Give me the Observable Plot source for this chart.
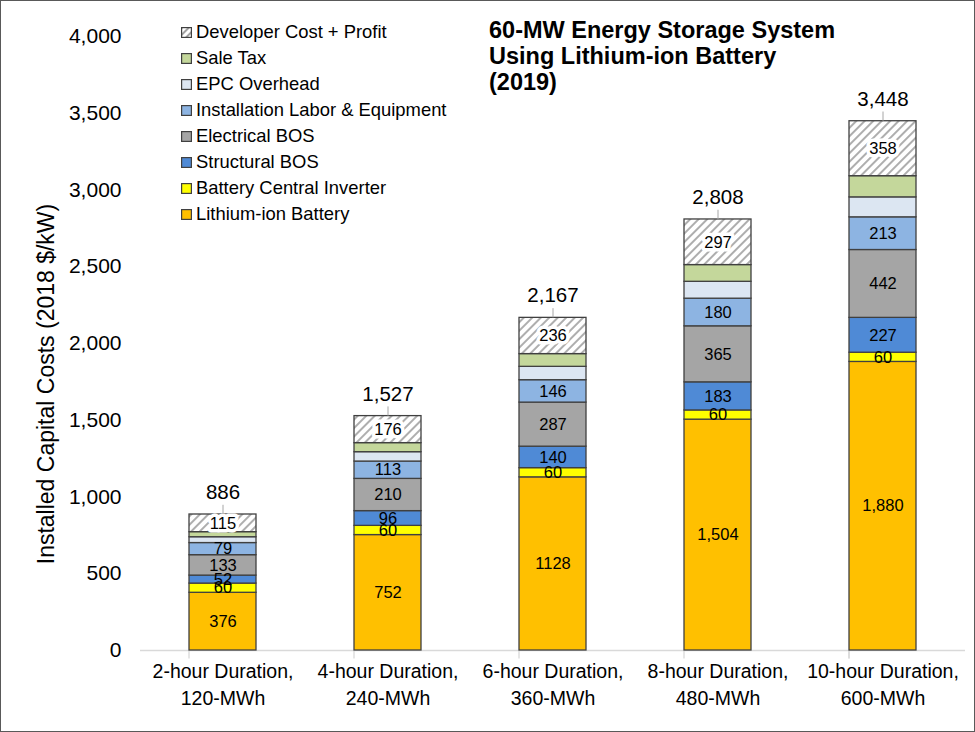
<!DOCTYPE html>
<html>
<head>
<meta charset="utf-8">
<script src="https://cdn.jsdelivr.net/npm/d3@7"></script>
<script src="https://cdn.jsdelivr.net/npm/@observablehq/plot@0.6"></script>
<style>
  html, body { margin: 0; padding: 0; background: #fff; }
  body { font-family: "Liberation Sans", Arial, sans-serif; color: #000; }
  #fig { position: relative; width: 975px; height: 732px; overflow: hidden; background: #fff; }
  #fig > svg.chart { position: absolute; left: 0; top: 0; }
  #frame { position: absolute; left: 0; top: 0; width: 975px; height: 732px; box-sizing: border-box; border: 1px solid #595959; pointer-events: none; }
  #title { position: absolute; left: 489px; top: 17px; font-weight: bold; font-size: 23.5px; line-height: 26px; }
  #ylabel { position: absolute; left: 46px; top: 384px; transform: translate(-50%, -50%) rotate(-90deg); white-space: nowrap; font-size: 23px; }
  #legend { position: absolute; left: 181px; top: 19px; font-size: 18.4px; }
  #legend .row { height: 26px; display: flex; align-items: center; }
  #legend .sw { width: 11px; height: 11px; margin-right: 4px; flex: none; }
</style>
</head>
<body>
<svg width="0" height="0" style="position:absolute">
  <defs>
    <pattern id="hatch" patternUnits="userSpaceOnUse" width="6" height="6" patternTransform="rotate(45)">
      <rect width="6" height="6" fill="#ffffff"></rect>
      <line x1="1" y1="0" x2="1" y2="6" stroke="#9a9a9a" stroke-width="1.6"></line>
    </pattern>
    <pattern id="hatchSmall" patternUnits="userSpaceOnUse" width="5" height="5" patternTransform="rotate(45)">
      <rect width="5" height="5" fill="#ffffff"></rect>
      <line x1="1" y1="0" x2="1" y2="5" stroke="#7a7a7a" stroke-width="1.4"></line>
    </pattern>
  </defs>
</svg>
<div id="fig">
  <div id="title">60-MW Energy Storage System<br>Using Lithium-ion Battery<br>(2019)</div>
  <div id="ylabel">Installed Capital Costs (2018 $/kW)</div>
  <div id="legend"></div>
  <div id="frame"></div>
</div>
<script>
// ---- data ----
const categories = [
  "2-hour Duration,\n120-MWh",
  "4-hour Duration,\n240-MWh",
  "6-hour Duration,\n360-MWh",
  "8-hour Duration,\n480-MWh",
  "10-hour Duration,\n600-MWh"
];
const components = [
  "Lithium-ion Battery",
  "Battery Central Inverter",
  "Structural BOS",
  "Electrical BOS",
  "Installation Labor & Equipment",
  "EPC Overhead",
  "Sale Tax",
  "Developer Cost + Profit"
];
const battery      = [376, 752, 1128, 1504, 1880];
const inverter     = [60, 60, 60, 60, 60];
const structural   = [52, 96, 140, 183, 227];
const electrical   = [133, 210, 287, 365, 442];
const installation = [79, 113, 146, 180, 213];
const epc          = [38, 61, 87, 110, 130];
const saleTax      = [33, 59, 83, 109, 138];
const developer    = [115, 176, 236, 297, 358];
const totals       = [886, 1527, 2167, 2808, 3448];
const batteryLabels = ["376", "752", "1128", "1,504", "1,880"];
const yTicks = [0, 500, 1000, 1500, 2000, 2500, 3000, 3500, 4000];
const colors = ["#FFC000", "#FFFF00", "#4F8AD6", "#A5A5A5", "#8DB4E2", "#DCE6F2", "#C4D79B", "url(#hatch)"];
const labeled = [true, true, true, true, true, false, false, true];

// ---- build table ----
const series = [battery, inverter, structural, electrical, installation, epc, saleTax, developer];
const fmt = d3.format(",");
const rows = [];
categories.forEach((cat, i) => {
  let base = 0;
  series.forEach((s, k) => {
    const v = s[i];
    rows.push({
      category: cat,
      component: components[k],
      value: v,
      y1: base,
      y2: base + v,
      mid: base + v / 2,
      label: !labeled[k] ? "" : (k === 0 ? batteryLabels[i] : String(v))
    });
    base += v;
  });
});
const totalRows = categories.map((cat, i) => ({category: cat, total: totals[i], lead: totals[i] + 60}));
const boundaries = categories.map((c, i) => ({category: c, dx: -82.5})).concat([{category: categories[categories.length - 1], dx: 82.5}]);

const chart = Plot.plot({
  width: 975,
  height: 732,
  marginLeft: 140,
  marginRight: 10,
  marginTop: 36,
  marginBottom: 82,
  style: {fontFamily: "'Liberation Sans', Arial, sans-serif", fontSize: "21px", color: "#000", background: "transparent"},
  x: {domain: categories, paddingInner: 0.594, paddingOuter: 0.297, axis: null},
  y: {domain: [0, 4000], ticks: yTicks, tickFormat: fmt, tickSize: 0, tickPadding: 19, label: null},
  color: {domain: components, range: colors},
  marks: [
    Plot.ruleY([0], {stroke: "#d9d9d9", strokeWidth: 1.3}),
    Plot.ruleX(boundaries, {x: "category", dx: d => d.dx, y1: 0, y2: -55, stroke: "#d9d9d9", strokeWidth: 1.3}),
    Plot.barY(rows, {x: "category", y1: "y1", y2: "y2", fill: "component", stroke: "#404040", strokeWidth: 1.3}),
    Plot.text(rows.filter(d => d.component !== "Developer Cost + Profit"), {x: "category", y: "mid", text: "label", fontSize: 16.5, fill: "#000"}),
    Plot.text(rows.filter(d => d.component === "Developer Cost + Profit"), {x: "category", y: "mid", text: "label", fontSize: 16.5, fill: "#000", stroke: "#fff", strokeWidth: 7}),
    Plot.ruleX(totalRows, {x: "category", y1: "total", y2: "lead", stroke: "#a6a6a6", strokeWidth: 1}),
    Plot.text(totalRows, {x: "category", y: "total", text: d => fmt(d.total), dy: -22, fontSize: 20.5, fill: "#000"}),
    Plot.text(categories, {x: d => d, text: d => d, frameAnchor: "bottom", lineAnchor: "top", dy: 8, fontSize: 19.5, lineHeight: 1.4, fill: "#000"})
  ]
});
chart.classList.add("chart");
const fig = document.getElementById("fig");
fig.insertBefore(chart, fig.firstChild);

// ---- legend ----
const legend = document.getElementById("legend");
components.slice().reverse().forEach((name) => {
  const k = components.indexOf(name);
  const row = document.createElement("div");
  row.className = "row";
  const fill = k === components.length - 1 ? "url(#hatchSmall)" : colors[k];
  row.innerHTML = `<svg class="sw" width="11" height="11"><rect x="0.6" y="0.6" width="9.8" height="9.8" fill="${fill}" stroke="#404040" stroke-width="1.2"></rect></svg><span></span>`;
  row.querySelector("span").textContent = name;
  legend.appendChild(row);
});
</script>
</body>
</html>
